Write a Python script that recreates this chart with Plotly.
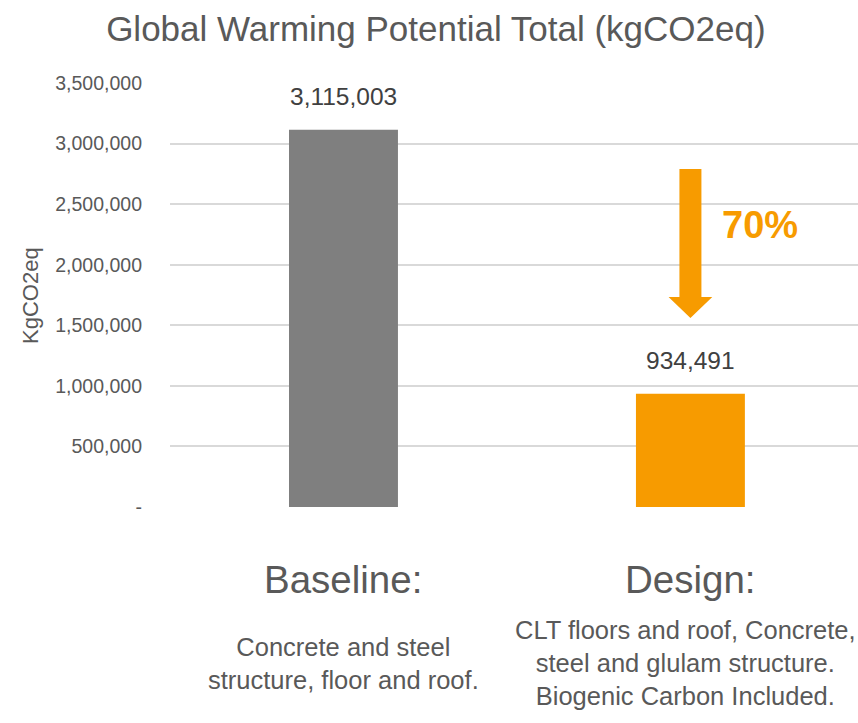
import plotly.graph_objects as go

categories = ["Baseline:", "Design:"]
descriptions = [
    "Concrete and steel<br>structure, floor and roof.",
    "CLT floors and roof, Concrete,<br>steel and glulam structure.<br>Biogenic Carbon Included.",
]
values = [3115003, 934491]
bar_colors = ["#7f7f7f", "#f79b00"]
tick_vals = [0, 500000, 1000000, 1500000, 2000000, 2500000, 3000000, 3500000]
tick_text = ["-", "500,000", "1,000,000", "1,500,000", "2,000,000", "2,500,000", "3,000,000", "3,500,000"]

FONT = "Liberation Sans, Arial, sans-serif"
GREY = "#595959"
ORANGE = "#f79b00"

xs = list(range(len(categories)))

fig = go.Figure()
fig.add_trace(go.Bar(
    x=xs, y=values, marker=dict(color=bar_colors, line=dict(width=0)),
    width=0.314, hoverinfo="skip", showlegend=False,
))

annotations = []
# data labels
for x, v in zip(xs, values):
    annotations.append(dict(
        x=x, y=v, xref="x", yref="y", text=f"{v:,}", showarrow=False,
        yanchor="bottom", yshift=18, font=dict(family=FONT, size=24.5, color="#404040"),
    ))
# category headings and descriptions
for x, c, d in zip(xs, categories, descriptions):
    annotations.append(dict(
        x=x, y=-0.172, xref="x", yref="paper", text=c, showarrow=False,
        yanchor="middle", font=dict(family=FONT, size=38.5, color=GREY),
    ))
    annotations.append(dict(
        x=x, y=-0.368, xref="x", yref="paper", text=d, showarrow=False,
        yanchor="middle", align="center", xshift=-5 if x == 1 else 0,
        font=dict(family=FONT, size=25.5, color=GREY),
    ))

# reduction percentage
reduction = 1 - values[1] / values[0]
annotations.append(dict(
    x=1.20, y=2330000, xref="x", yref="y", text=f"<b>{reduction:.0%}</b>", showarrow=False,
    font=dict(family=FONT, size=38, color=ORANGE),
))

# y-axis title
annotations.append(dict(
    x=-0.2035, y=0.5, xref="paper", yref="paper", text="KgCO2eq", showarrow=False,
    textangle=-90, xanchor="center", yanchor="middle",
    font=dict(family=FONT, size=22, color=GREY),
))

# arrow path (decoration)
cx = 1
sw, hw = 0.0317, 0.063
y_top, y_head, y_tip = 2790000, 1733000, 1560000
path = (f"M {cx-sw},{y_top} L {cx+sw},{y_top} L {cx+sw},{y_head} L {cx+hw},{y_head} "
        f"L {cx},{y_tip} L {cx-hw},{y_head} L {cx-sw},{y_head} Z")

fig.update_layout(
    width=858, height=723,
    margin=dict(l=170, r=0, t=83, b=216),
    paper_bgcolor="white", plot_bgcolor="white",
    title=dict(text="Global Warming Potential Total (kgCO2eq)", x=0.508, xanchor="center",
               y=0.96, yanchor="middle", xref="container",
               font=dict(family=FONT, size=35, color=GREY)),
    xaxis=dict(range=[-0.5, 1.483], showticklabels=False, showgrid=False, zeroline=False,
               showline=False, fixedrange=True),
    yaxis=dict(range=[0, 3500000], tickvals=tick_vals, ticktext=tick_text,
               showgrid=True, gridcolor="#d9d9d9", gridwidth=1.5, zeroline=False,
               showline=False, ticks="", ticklabelstandoff=27,
               tickfont=dict(family=FONT, size=19.5, color=GREY), fixedrange=True),
    annotations=annotations,
    shapes=[dict(type="path", path=path, xref="x", yref="y",
                 fillcolor=ORANGE, line=dict(width=0), layer="above")],
)

fig.write_html("out.html")
